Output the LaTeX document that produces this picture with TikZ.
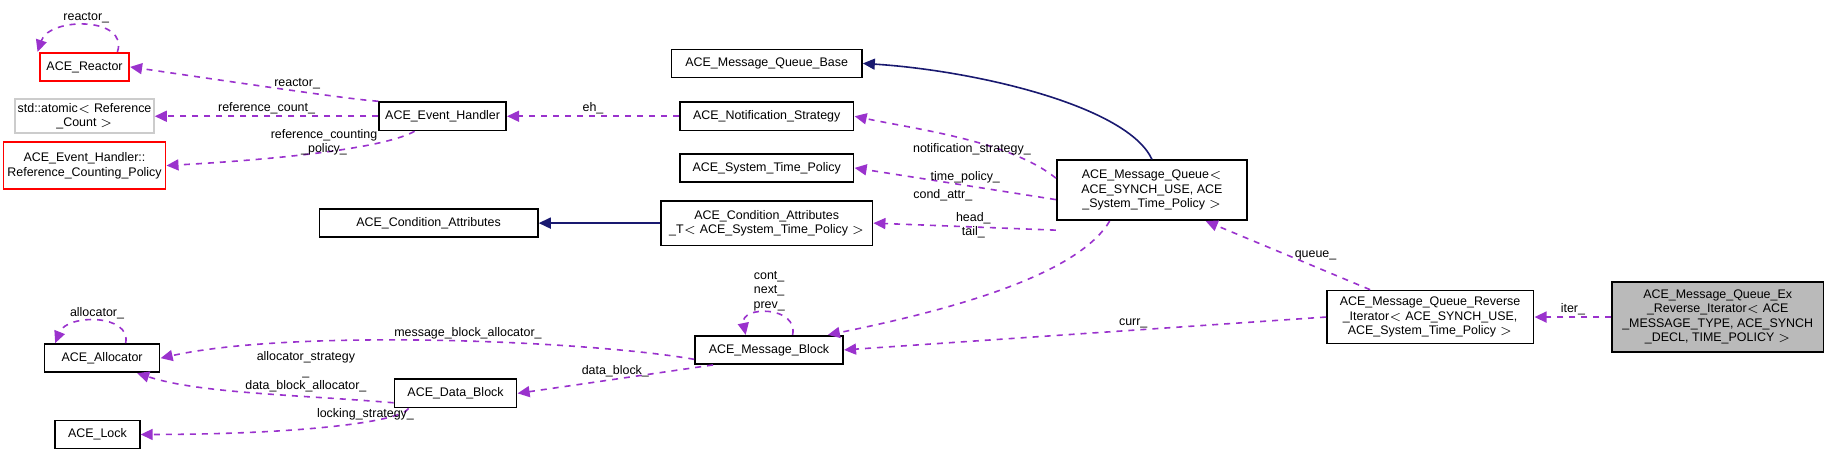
\documentclass[tikz,border=0pt]{standalone}
\usepackage{fontspec}
\setmainfont{Liberation Sans}
\usetikzlibrary{arrows.meta}
\definecolor{edgepurple}{HTML}{9A32CD}
\definecolor{edgenavy}{HTML}{191970}
\begin{document}
\begin{tikzpicture}[x=0.5pt,y=-0.5pt,scale=1.174,every node/.append style={transform shape}]
        \tikzstyle{every node}=[font=\fontsize{5.3}{6.2}\selectfont,transform shape]
        \tikzstyle{cls}=[draw,thick,fill=white,inner sep=1pt,minimum height=12pt,align=center]
        \tikzstyle{redcls}=[cls,draw=red]
        \tikzstyle{graycls}=[cls,draw=black!20]
        \tikzstyle{member}=[edgepurple,dashed,thick,-{Triangle[length=6pt,width=5.5pt]}]
        \tikzstyle{inherit}=[edgenavy,thick,-{Triangle[length=6pt,width=5.5pt]}]
        \tikzstyle{lbl}=[inner sep=0.5pt,align=center,text=black]

        \useasboundingbox (0,0) rectangle (1568,387.5);

        % classes
        \node [redcls,minimum width=38pt] (reactor) at (72,57) {ACE\_Reactor};
        \node [graycls,minimum width=59pt,minimum height=14.5pt] (atomic) at (72,99) {std::atomic$<$ Reference\\\_Count $>$};
        \node [redcls,minimum width=69pt,minimum height=20pt] (rcp) at (72,141) {ACE\_Event\_Handler::\\Reference\_Counting\_Policy};
        \node [cls,minimum width=54pt] (handler) at (377,99) {ACE\_Event\_Handler};
        \node [cls,minimum width=81pt] (qbase) at (653,54) {ACE\_Message\_Queue\_Base};
        \node [cls,minimum width=74pt] (notify) at (653,99) {ACE\_Notification\_Strategy};
        \node [cls,minimum width=74pt] (timepol) at (653,143) {ACE\_System\_Time\_Policy};
        \node [cls,minimum width=93pt] (condattr) at (365,190) {ACE\_Condition\_Attributes};
        \node [cls,minimum width=90pt,minimum height=19pt] (condattrT) at (653,190) {ACE\_Condition\_Attributes\\\_T$<$ ACE\_System\_Time\_Policy $>$};
        \node [cls,minimum width=81pt,minimum height=25.5pt] (queue) at (981,162) {ACE\_Message\_Queue$<$\\ACE\_SYNCH\_USE, ACE\\\_System\_Time\_Policy $>$};
        \node [cls,minimum width=88pt,minimum height=22.5pt] (revit) at (1218,270) {ACE\_Message\_Queue\_Reverse\\\_Iterator$<$ ACE\_SYNCH\_USE,\\ACE\_System\_Time\_Policy $>$};
        \node [cls,fill=black!27,minimum width=90pt,minimum height=30pt] (exrevit) at (1463,270) {ACE\_Message\_Queue\_Ex\\\_Reverse\_Iterator$<$ ACE\\\_MESSAGE\_TYPE, ACE\_SYNCH\\\_DECL, TIME\_POLICY $>$};
        \node [cls,minimum width=49pt] (alloc) at (87,305) {ACE\_Allocator};
        \node [cls,minimum width=63pt] (mblock) at (655,298) {ACE\_Message\_Block};
        \node [cls,minimum width=52pt] (dblock) at (388,335) {ACE\_Data\_Block};
        \node [cls,minimum width=36pt] (lock) at (83,370) {ACE\_Lock};

        % inheritance
        \draw [inherit] (queue.north) .. controls (960,90) and (830,60) .. (qbase.east);
        \draw [inherit] (condattrT.west) -- (condattr.east);

        % members
        \draw [member] ([xshift=14]reactor.north) .. controls ++(10,-30) and ++(10,-30) .. ([xshift=-20]reactor.north) node [lbl,pos=0.5,above] {reactor\_};
        \draw [member] (handler.north west) .. controls (300,85) and (200,70) .. (reactor.east) node [lbl,pos=0.45,above] {reactor\_};
        \draw [member] (handler.west) -- (atomic.east) node [lbl,midway,above] {reference\_count\_};
        \draw [member] ([xshift=-12]handler.south) .. controls (330,125) and (250,135) .. (rcp.east);
        \node [lbl] (rcplbl) at (276,121) {reference\_counting\\\_policy\_};
        \draw [member] (notify.west) -- (handler.east) node [lbl,midway,above] {eh\_};
        \draw [member] ([yshift=-8]queue.north west) .. controls (860,120) and (780,110) .. (notify.east) node [lbl,pos=0.45,below] {notification\_strategy\_};
        \draw [member] ([yshift=-4]queue.west) -- (timepol.east) node [lbl,pos=0.45,above] {time\_policy\_};
        \draw [member] ([yshift=-17]queue.west) -- (condattrT.east);
        \node [lbl] (calbl) at (803,166) {cond\_attr\_};
        \draw [member] ([xshift=-18]queue.south) .. controls (920,230) and (830,260) .. ([xshift=25]mblock.north);
        \node [lbl] (htlbl) at (829,192) {head\_\\tail\_};
        \draw [member] ([xshift=10]mblock.north) .. controls ++(5,-25) and ++(-5,-25) .. ([xshift=-10]mblock.north) node [lbl,pos=0.5,above] {cont\_\\next\_\\prev\_};
        \draw [member] ([xshift=-70]revit.north east) -- ([xshift=-18]queue.south east) node [lbl,pos=0.5,right=2pt] {queue\_};
        \draw [member] (revit.west) -- (mblock.east) node [lbl,pos=0.4,above] {curr\_};
        \draw [member] (exrevit.west) -- (revit.east) node [lbl,midway,above] {iter\_};
        \draw [member] ([yshift=-4]mblock.west) .. controls (500,290) and (250,280) .. (alloc.east) node [lbl,pos=0.45,above] {message\_block\_allocator\_};
        \draw [member] ([xshift=8]mblock.south west) -- (dblock.east) node [lbl,pos=0.5,above] {data\_block\_};
        \draw [member] ([yshift=-4]dblock.west) .. controls (250,336) and (170,335) .. ([xshift=-10]alloc.south east) node [lbl,pos=0.3,above=1pt] {allocator\_strategy\\\_\\data\_block\_allocator\_};
        \draw [member] ([xshift=-20]dblock.south) .. controls (340,360) and (250,370) .. (lock.east) node [lbl,pos=0.35,above] {locking\_strategy\_};
        \draw [member] ([xshift=10]alloc.north) .. controls ++(5,-25) and ++(10,-25) .. ([xshift=-20]alloc.north) node [lbl,pos=0.5,above] {allocator\_};
\end{tikzpicture}
\end{document}
